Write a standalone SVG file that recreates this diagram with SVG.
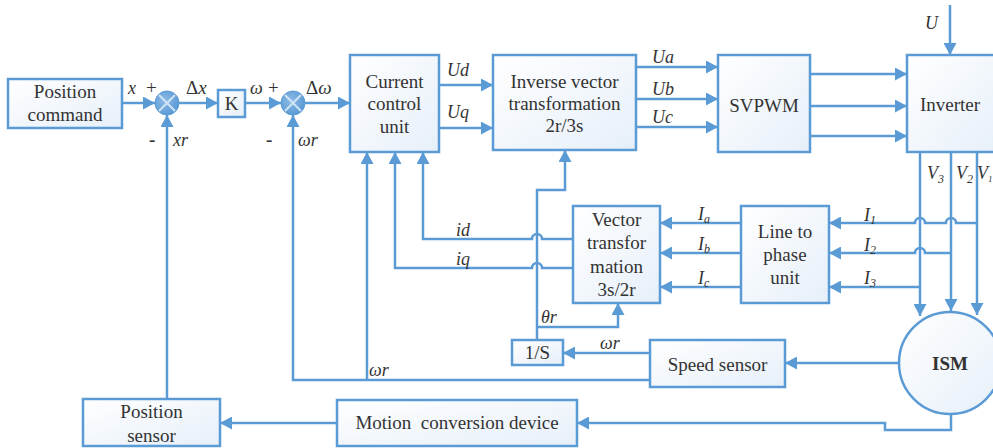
<svg xmlns="http://www.w3.org/2000/svg" width="993" height="448" viewBox="0 0 993 448">
<defs>
<linearGradient id="bf" x1="0" y1="0" x2="1" y2="1">
<stop offset="0" stop-color="#ffffff"/>
<stop offset="1" stop-color="#e6eff9"/>
</linearGradient>
<radialGradient id="sj" cx="0.4" cy="0.4" r="0.6">
<stop offset="0" stop-color="#8dbbe6"/>
<stop offset="1" stop-color="#5b9bd5"/>
</radialGradient>
<marker id="ar" markerUnits="userSpaceOnUse" markerWidth="13" markerHeight="13" refX="12" refY="6.5" orient="auto">
<path d="M0,0 L12,6.5 L0,13 z" fill="#5b9bd5"/>
</marker>
</defs>
<style>
.box{fill:url(#bf);stroke:#5b9bd5;stroke-width:2.5}
.ln{fill:none;stroke:#5b9bd5;stroke-width:2.5}
.ar{marker-end:url(#ar)}
.t{font-family:"Liberation Serif","Times New Roman",serif;font-size:19px;fill:#333;text-anchor:middle}
.l{font-family:"Liberation Serif","Times New Roman",serif;font-size:18px;font-style:italic;fill:#333}
.s{font-family:"Liberation Serif","Times New Roman",serif;font-size:19px;fill:#333}
</style>
<rect width="993" height="448" fill="#ffffff"/>

<g id="connectors">
<path class="ln ar" d="M122,103 H155"/>
<path class="ln ar" d="M179,103 H218"/>
<path class="ln ar" d="M245,103 H281"/>
<path class="ln ar" d="M305,103 H350"/>
<path class="ln ar" d="M167,399 V115"/>
<path class="ln ar" d="M650,380 H293 V115"/>
<path class="ln ar" d="M367,380 V152"/>
<path class="ln ar" d="M573,268 H542 a5,5 0 0 0 -10,0 H395 V152"/>
<path class="ln ar" d="M573,239 H542 a5,5 0 0 0 -10,0 H423 V152"/>
<path class="ln ar" d="M537,340 V190 H565 V150"/>
<path class="ln ar" d="M537,327 H618 V303"/>
<path class="ln ar" d="M439,85 H493"/>
<path class="ln ar" d="M439,128 H493"/>
<path class="ln ar" d="M636,67 H718"/>
<path class="ln ar" d="M636,99 H718"/>
<path class="ln ar" d="M636,127 H718"/>
<path class="ln ar" d="M810,74 H907"/>
<path class="ln ar" d="M810,106 H907"/>
<path class="ln ar" d="M810,136 H907"/>
<path class="ln ar" d="M950,5 V55"/>
<path class="ln ar" d="M920,152 V316"/>
<path class="ln ar" d="M951,152 V311"/>
<path class="ln ar" d="M977,152 V315"/>
<path class="ln ar" d="M977,223 H956 a5,5 0 0 0 -10,0 H925 a5,5 0 0 0 -10,0 H829"/>
<path class="ln ar" d="M951,253 H925 a5,5 0 0 0 -10,0 H829"/>
<path class="ln ar" d="M920,287 H829"/>
<path class="ln ar" d="M741,223 H660"/>
<path class="ln ar" d="M741,253 H660"/>
<path class="ln ar" d="M741,287 H660"/>
<path class="ln ar" d="M650,353 H563"/>
<path class="ln ar" d="M899,363 H785"/>
<path class="ln ar" d="M951,414 V430 H885 V423 H577"/>
<path class="ln ar" d="M337,423 H220"/>
</g>

<g id="labels">
<text class="l" x="128" y="94">x</text>
<text class="s" x="146" y="94">+</text>
<text class="s" x="186" y="94">Δ<tspan font-style="italic">x</tspan></text>
<text class="l" x="250" y="94">ω</text>
<text class="s" x="268" y="94">+</text>
<text class="s" x="306" y="94">Δ<tspan font-style="italic">ω</tspan></text>
<text class="s" x="149" y="146" font-weight="bold">-</text>
<text class="l" x="173" y="146">xr</text>
<text class="s" x="266" y="146" font-weight="bold">-</text>
<text class="l" x="298" y="146">ωr</text>
<text class="l" x="447" y="76">Ud</text>
<text class="l" x="447" y="118">Uq</text>
<text class="l" x="652" y="63">Ua</text>
<text class="l" x="652" y="95">Ub</text>
<text class="l" x="652" y="123">Uc</text>
<text class="l" x="925" y="29">U</text>
<text class="l" x="927" y="179">V<tspan font-size="12" dy="4">3</tspan></text>
<text class="l" x="956" y="179">V<tspan font-size="12" dy="4">2</tspan></text>
<text class="l" x="977" y="179" font-size="14">V<tspan font-size="9" dy="3">1</tspan></text>
<text class="l" x="864" y="221">I<tspan font-size="12" dy="3">1</tspan></text>
<text class="l" x="864" y="251">I<tspan font-size="12" dy="3">2</tspan></text>
<text class="l" x="864" y="284">I<tspan font-size="12" dy="3">3</tspan></text>
<text class="l" x="698" y="220">I<tspan font-size="12" dy="3">a</tspan></text>
<text class="l" x="698" y="250">I<tspan font-size="12" dy="3">b</tspan></text>
<text class="l" x="698" y="284">I<tspan font-size="12" dy="3">c</tspan></text>
<text class="l" x="456" y="236">id</text>
<text class="l" x="456" y="265">iq</text>
<text class="l" x="541" y="323">θr</text>
<text class="l" x="600" y="349">ωr</text>
<text class="l" x="369" y="376">ωr</text>
</g>

<g id="position-command"><rect class="box" x="8" y="79" width="114" height="49"/><text class="t" x="65" y="98">Position</text><text class="t" x="65" y="121">command</text></g>
<g id="sum1"><circle cx="167" cy="103" r="12" fill="url(#sj)" stroke="#5b9bd5" stroke-width="1"/><path d="M159,95 L175,111 M175,95 L159,111" stroke="#cfe3f5" stroke-width="2"/></g>
<g id="k"><rect class="box" x="218" y="90" width="27" height="27"/><text class="t" x="231.5" y="110">K</text></g>
<g id="sum2"><circle cx="293" cy="103" r="12" fill="url(#sj)" stroke="#5b9bd5" stroke-width="1"/><path d="M285,95 L301,111 M301,95 L285,111" stroke="#cfe3f5" stroke-width="2"/></g>
<g id="current-control"><rect class="box" x="350" y="55" width="89" height="97"/><text class="t" x="394.5" y="88">Current</text><text class="t" x="394.5" y="110">control</text><text class="t" x="394.5" y="133">unit</text></g>
<g id="inverse-vector"><rect class="box" x="493" y="55" width="143" height="95"/><text class="t" x="564.5" y="88">Inverse vector</text><text class="t" x="564.5" y="110">transformation</text><text class="t" x="564.5" y="132">2r/3s</text></g>
<g id="svpwm"><rect class="box" x="718" y="55" width="92" height="97"/><text class="t" x="764" y="112">SVPWM</text></g>
<g id="inverter"><rect class="box" x="907" y="55" width="92" height="97"/><text class="t" x="950" y="111">Inverter</text></g>
<g id="vector-transform"><rect class="box" x="573" y="206" width="87" height="97"/><text class="t" x="616.5" y="226">Vector</text><text class="t" x="616.5" y="249">transfor</text><text class="t" x="616.5" y="273">mation</text><text class="t" x="616.5" y="296">3s/2r</text></g>
<g id="line-to-phase"><rect class="box" x="741" y="206" width="88" height="97"/><text class="t" x="785" y="238">Line to</text><text class="t" x="785" y="261">phase</text><text class="t" x="785" y="284">unit</text></g>
<g id="integrator"><rect class="box" x="512" y="340" width="51" height="25"/><text class="t" x="537.5" y="359" font-size="17">1/S</text></g>
<g id="speed-sensor"><rect class="box" x="650" y="340" width="135" height="47"/><text class="t" x="717.5" y="371">Speed sensor</text></g>
<g id="ism"><circle cx="950" cy="363" r="51" fill="url(#bf)" stroke="#5b9bd5" stroke-width="2.5"/><text class="t" x="950" y="370" font-weight="bold">ISM</text></g>
<g id="motion-conversion"><rect class="box" x="337" y="400" width="240" height="46"/><text class="t" x="457" y="429" xml:space="preserve">Motion  conversion device</text></g>
<g id="position-sensor"><rect class="box" x="83" y="399" width="137" height="47"/><text class="t" x="151.5" y="418">Position</text><text class="t" x="151.5" y="442">sensor</text></g>
</svg>
